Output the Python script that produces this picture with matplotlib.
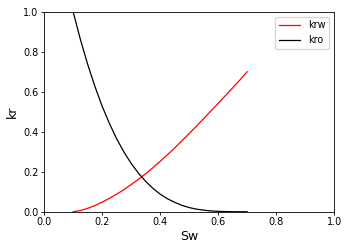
import numpy as np
import matplotlib
matplotlib.use('Agg')
import matplotlib.pyplot as plt

# saturacao de agua
sw = [0.100, 0.125, 0.150, 0.175, 0.200, 0.225, 0.250, 0.275, 0.300,
      0.325, 0.350, 0.375, 0.400, 0.425, 0.450, 0.475, 0.500, 0.525,
      0.550, 0.575, 0.600, 0.625, 0.650, 0.675, 0.700]

# permeabilidade relativa da agua
krw = [0.000, 0.006, 0.017, 0.031, 0.048, 0.067, 0.088, 0.110, 0.136,
       0.162, 0.190, 0.220, 0.252, 0.285, 0.319, 0.355, 0.391, 0.428,
       0.466, 0.504, 0.542, 0.581, 0.620, 0.659, 0.700]

# permeabilidade relativa do oleo
kro = [1.000, 0.862, 0.738, 0.627, 0.528, 0.442, 0.365, 0.299, 0.242,
       0.193, 0.152, 0.117, 0.088, 0.065, 0.047, 0.032, 0.021, 0.013,
       0.008, 0.004, 0.002, 0.001, 0.0002, 0.0, 0.0]

fig = plt.figure(figsize=(3.5, 2.5), dpi=100)
ax = fig.add_axes([0.126, 0.153, 0.829, 0.8])

ax.plot(sw, krw, color='red', linewidth=0.9, label='krw')
ax.plot(sw, kro, color='black', linewidth=0.9, label='kro')
ax.set_xlim(0, 1)
ax.set_ylim(0, 1)
ax.set_xlabel('Sw', fontsize=9, labelpad=2)
ax.set_ylabel('kr', fontsize=9, labelpad=3)
ax.tick_params(labelsize=7, length=2.5, pad=1.5, width=0.6)
for s in ax.spines.values():
    s.set_linewidth(0.6)
ax.legend(loc='upper right', fontsize=7, handlelength=2.2)

fig.savefig('out.png', dpi=100)
